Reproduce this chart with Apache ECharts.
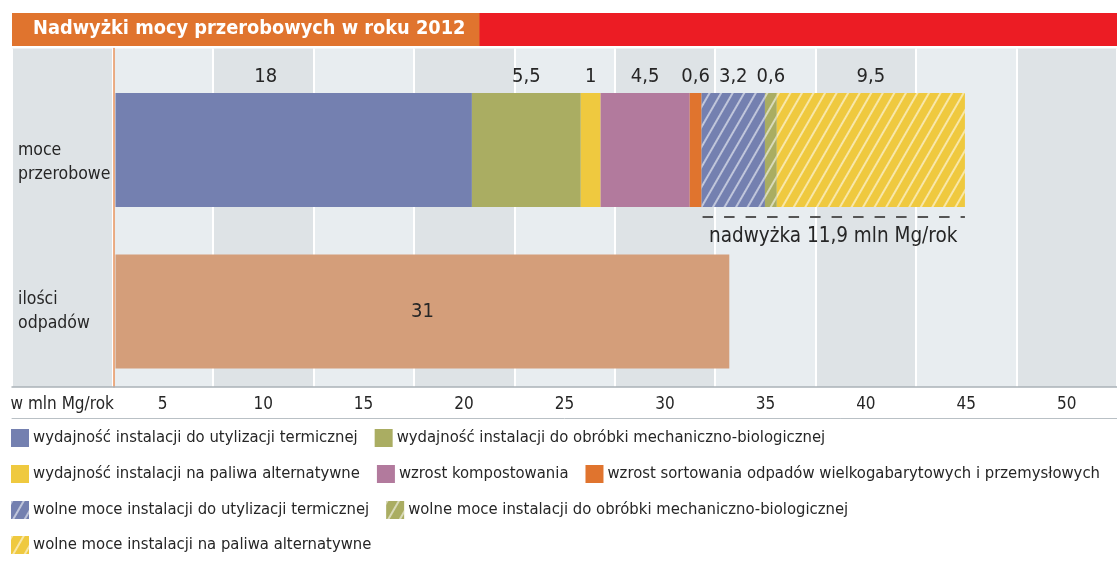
<!DOCTYPE html>
<html lang="pl">
<head>
<meta charset="UTF-8">
<title>Nadwyżki mocy przerobowych w roku 2012</title>
<script src="https://cdn.jsdelivr.net/npm/echarts@6/dist/echarts.min.js"></script>
<style>
  html, body { margin: 0; padding: 0; background: #fff; }
  #chart { width: 1117px; height: 563px; }
</style>
</head>
<body>
<div id="chart"></div>
<script>
// dane
var titleText = 'Nadwyżki mocy przerobowych w roku 2012';
var categories = ['moce\nprzerobowe', 'ilości\nodpadów'];
var capacityNames = [
  'wydajność instalacji do utylizacji termicznej',
  'wydajność instalacji do obróbki mechaniczno-biologicznej',
  'wydajność instalacji na paliwa alternatywne',
  'wzrost kompostowania',
  'wzrost sortowania odpadów wielkogabarytowych i przemysłowych',
  'wolne moce instalacji do utylizacji termicznej',
  'wolne moce instalacji do obróbki mechaniczno-biologicznej',
  'wolne moce instalacji na paliwa alternatywne'
];
var capacityValues = [18, 5.5, 1, 4.5, 0.6, 3.2, 0.6, 9.5];
var wasteName = 'ilości odpadów';
var wasteValues = [31];
var axisUnit = 'w mln Mg/rok';
var tickLabels = ['5', '10', '15', '20', '25', '30', '35', '40', '45', '50'];
var surplusText = 'nadwyżka {v} mln Mg/rok';

// wygląd
var colors = ['#7480b0', '#aaad62', '#efc93f', '#b27a9d', '#e0742e', '#7480b0', '#aaad62', '#efc93f'];
var hatched = [false, false, false, false, false, true, true, true];
var legendRows = [[0, 1], [2, 3, 4], [5, 6], [7]];
var legendTops = [429, 465, 501, 536];
var FONT = '"DejaVu Sans Condensed", "Liberation Sans Narrow", Arial, sans-serif';
var TXT = '#262626';

function fmt(v) { return String(v).replace('.', ','); }

var decal = {
  symbol: 'rect',
  symbolSize: 1,
  dashArrayX: [1, 0],
  dashArrayY: [1.3, 7.5],
  rotation: -Math.PI / 3,
  color: 'rgba(255,255,255,0.55)'
};

var series = capacityValues.map(function (v, i) {
  return {
    name: capacityNames[i],
    type: 'bar',
    stack: 'all',
    xAxisIndex: 2,
    yAxisIndex: 1,
    barWidth: 114,
    data: [v, null],
    itemStyle: { color: colors[i], decal: hatched[i] ? decal : null },
    label: {
      show: true,
      position: 'top',
      distance: 6,
      offset: i === 0 ? [-28, 0] : [0, 0],
      color: TXT,
      fontSize: 20,
      fontFamily: FONT,
      formatter: function (p) { return fmt(p.value); }
    }
  };
});
series.push({
  name: wasteName,
  type: 'bar',
  stack: 'all',
  xAxisIndex: 2,
  yAxisIndex: 1,
  barWidth: 114,
  data: [null, wasteValues[0]],
  itemStyle: { color: '#d49e7a' },
  label: {
    show: true, position: 'inside', color: TXT, fontSize: 20, fontFamily: FONT,
    formatter: function (p) { return fmt(p.value); }
  }
});

var legends = legendRows.map(function (row, r) {
  return {
    left: 11,
    top: legendTops[r],
    width: 3000,
    padding: 0,
    itemWidth: 18,
    itemHeight: 18,
    itemGap: 17,
    icon: 'rect',
    selectedMode: false,
    data: row.map(function (i) { return capacityNames[i]; }),
    textStyle: { fontSize: 16.5, fontFamily: FONT, color: TXT, padding: [0, 0, 0, -1] }
  };
});

var chart = echarts.init(document.getElementById('chart'));
var option = {
  animation: false,
  title: {
    text: titleText,
    left: 12,
    top: 13,
    padding: [6, 14, 7, 21],
    backgroundColor: '#e0742e',
    z: 10,
    textStyle: { color: '#fff', fontSize: 19.8, fontWeight: 'bold', fontFamily: FONT, lineHeight: 20 }
  },
  legend: legends,
  grid: [
    { left: 12, top: 48.5, width: 1115.4, height: 338.5 },
    { left: 115.5, top: 69.25, width: 990, height: 323 }
  ],
  xAxis: [
    {
      gridIndex: 0,
      type: 'category',
      data: [axisUnit].concat(tickLabels),
      boundaryGap: true,
      axisLine: { lineStyle: { color: '#aab2b8', width: 1.5 } },
      axisTick: { show: false },
      axisLabel: { interval: 0, fontSize: 17, fontFamily: FONT, color: TXT, margin: 9 },
      splitArea: { show: true, interval: 0, areaStyle: { color: ['#dee3e6', '#e8edf0'] } },
      splitLine: { show: true, interval: 0, lineStyle: { color: '#fff', width: 2 } }
    },
    {
      gridIndex: 0,
      type: 'category',
      data: [axisUnit].concat(tickLabels),
      position: 'bottom',
      offset: 31,
      axisLine: { lineStyle: { color: '#b9c0c5', width: 1 } },
      axisTick: { show: false },
      axisLabel: { show: false },
      splitLine: { show: false }
    },
    { gridIndex: 1, type: 'value', min: 0, max: 50, show: false }
  ],
  yAxis: [
    {
      gridIndex: 0,
      type: 'value',
      min: 0,
      max: 1,
      offset: -101.4,
      axisLine: { show: true, lineStyle: { color: '#e8935e', width: 1.5 } },
      axisTick: { show: false },
      axisLabel: { show: false },
      splitLine: { show: false }
    },
    {
      gridIndex: 1,
      type: 'category',
      data: categories,
      inverse: true,
      axisLine: { show: false },
      axisTick: { show: false },
      splitLine: { show: false },
      axisLabel: {
        align: 'left',
        margin: 97.5,
        fontSize: 17.5,
        lineHeight: 24,
        fontFamily: FONT,
        color: TXT,
        formatter: function (v, i) { return i === 0 ? '\n' + v : v; }
      }
    }
  ],
  series: series
};
chart.setOption(option);

// linia nadwyżki pod wolnymi mocami
var startFree = capacityValues.slice(0, 5).reduce(function (a, b) { return a + b; }, 0);
var totalCap = capacityValues.reduce(function (a, b) { return a + b; }, 0);
var p1 = chart.convertToPixel({ gridIndex: 1 }, [startFree, 0]);
var p2 = chart.convertToPixel({ gridIndex: 1 }, [totalCap, 0]);
var lineY = p1[1] + 57 + 10;
var surplus = Math.round((totalCap - wasteValues[0]) * 10) / 10;

chart.setOption({
  graphic: [
    {
      type: 'rect', z: 1,
      shape: { x: 286, y: 13, width: 831, height: 33 },
      style: { fill: '#ec1c24' }
    },
    {
      type: 'line', z: 20,
      shape: { x1: p1[0] + 1, y1: lineY, x2: p2[0], y2: lineY },
      style: { stroke: '#555', lineWidth: 2, lineDash: [10.5, 11] }
    },
    {
      type: 'text', z: 20,
      x: (p1[0] + p2[0]) / 2, y: lineY + 20,
      style: {
        text: surplusText.replace('{v}', fmt(surplus)),
        fill: TXT,
        fontSize: 20.5,
        fontFamily: FONT,
        align: 'center',
        verticalAlign: 'middle'
      }
    }
  ]
});
</script>
</body>
</html>
